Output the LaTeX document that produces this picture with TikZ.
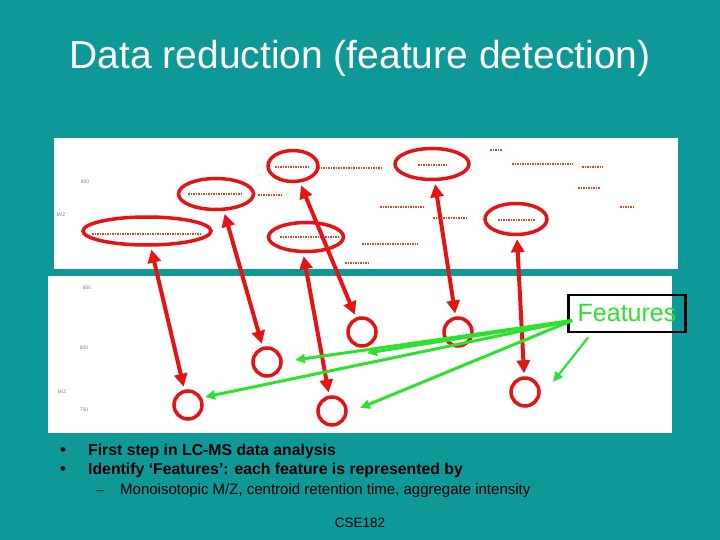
\documentclass[tikz,border=0pt]{standalone}
\usepackage{fontspec}
\setmainfont{Liberation Sans}
\usetikzlibrary{shapes.geometric,arrows.meta}
\definecolor{slideteal}{RGB}{14,152,152}
\definecolor{featgreen}{RGB}{44,226,44}
\definecolor{markred}{RGB}{228,20,20}
\definecolor{peakred}{RGB}{212,72,34}

\begin{document}
\begin{tikzpicture}[x=1pt,y=-1pt,
        ring/.style={
                draw=markred,
                line width=3.5pt,
                ellipse,
                inner sep=0pt,
        },
        spot/.style={
                draw=markred,
                line width=3.5pt,
                circle,
                minimum size=28pt,
                inner sep=0pt,
        },
        featbox/.style={
                draw=black,
                line width=2.7pt,
                text=featgreen,
                font=\fontsize{25}{25}\selectfont,
                minimum width=117pt,
                minimum height=37pt,
                inner sep=0pt,
        },
        link/.style={
                draw=markred,
                line width=4pt,
                {Triangle[length=13pt,width=13pt]}-{Triangle[length=13pt,width=13pt]},
                shorten <=3pt,
                shorten >=3pt,
        },
        pointer/.style={
                draw=featgreen,
                line width=3pt,
                -{Triangle[length=10pt,width=9pt]},
        },
        trace/.style={draw=peakred, line width=2pt, dash pattern=on 1.6pt off 0.9pt},
        axis/.style={font=\fontsize{5}{5}\selectfont, text=gray},
        ]

% slide and the two LC-MS maps
\fill[slideteal] (0,0) rectangle (720,540);
\fill[white] (54,138) rectangle (678,269);
\fill[white] (48,276) rectangle (672,433);

\node[text=white, font=\fontsize{39}{42}\selectfont] (title) at (360,58) {Data reduction (feature detection)};

% peak traces
\foreach \xa/\xb/\yy in {92/200/234, 188/243/194, 258/283/195, 275/308/167, 318/383/168,
        280/338/237, 418/448/165, 512/573/164, 582/603/167, 578/600/188, 380/425/207,
        433/467/218, 498/535/220, 620/635/207, 362/418/244, 345/368/263, 490/502/150}
        \draw[trace] (\xa,\yy) -- (\xb,\yy);

\node[axis] (tz) at (85,182) {800};
\node[axis] (tm) at (61,215) {M/Z};
\node[axis] (bz1) at (87,288) {850};
\node[axis] (bz2) at (84,348) {800};
\node[axis] (bm) at (62,392) {M/Z};
\node[axis] (bz3) at (84,410) {750};

\draw
(147,231) node[ring, minimum width=128pt, minimum height=28pt] (pk1) {}
(216,194) node[ring, minimum width=75pt, minimum height=31pt] (pk2) {}
(293,166) node[ring, minimum width=50pt, minimum height=31pt] (pk3) {}
(306,237) node[ring, minimum width=75pt, minimum height=29pt] (pk4) {}
(432,164) node[ring, minimum width=74pt, minimum height=31pt] (pk5) {}
(516,219) node[ring, minimum width=62pt, minimum height=31pt] (pk6) {}
(188,405) node[spot] (ft1) {}
(267,362) node[spot] (ft2) {}
(332,411) node[spot] (ft3) {}
(362,332) node[spot] (ft4) {}
(458,332) node[spot] (ft5) {}
(525,392) node[spot] (ft6) {}
;

\draw[link] (pk1) -- (ft1);
\draw[link] (pk2.-65) -- (ft2);
\draw[link] (pk3) -- (ft4);
\draw[link] (pk4.-100) -- (ft3);
\draw[link] (pk5) -- (ft5);
\draw[link] (pk6) -- (ft6);

\draw
(627,313.5) node[featbox] (feat) {Features}
(feat.west) ++(5,7) coordinate (fsrc)
(feat.south west) ++(21,4) coordinate (fsrc2)
(295,360) coordinate (g1)
(367,353) coordinate (g2)
(205,397) coordinate (g3)
(360,408) coordinate (g4)
(553,382) coordinate (g5)
;
\draw[pointer] (fsrc) -- (g1);
\draw[pointer] (fsrc) -- (g2);
\draw[pointer] (fsrc) -- (g3);
\draw[pointer] (fsrc) -- (g4);
\draw[pointer, line width=2.2pt] (fsrc2) -- (g5);

% bullet text
\node[anchor=base] (b1) at (63,455) {\fontsize{17}{17}\selectfont •};
\node[anchor=base] (b2) at (63,474) {\fontsize{17}{17}\selectfont •};
\node[anchor=base west, inner sep=0pt, font=\bfseries\fontsize{15.8}{16}\selectfont] (l1) at (88,455) {First step in LC-MS data analysis};
\node[anchor=base west, inner sep=0pt, font=\bfseries\fontsize{15.8}{16}\selectfont] (l2) at (88,474) {Identify ‘Features’: each feature is represented by};
\node[anchor=base, font=\fontsize{13}{13}\selectfont] (d1) at (100,494) {–};
\node[anchor=base west, inner sep=0pt, font=\fontsize{15}{15}\selectfont] (l3) at (120,494) {Monoisotopic M/Z, centroid retention time, aggregate intensity};
\node[anchor=base, font=\fontsize{13.5}{14}\selectfont] (foot) at (360,527) {CSE182};

\end{tikzpicture}
\end{document}
